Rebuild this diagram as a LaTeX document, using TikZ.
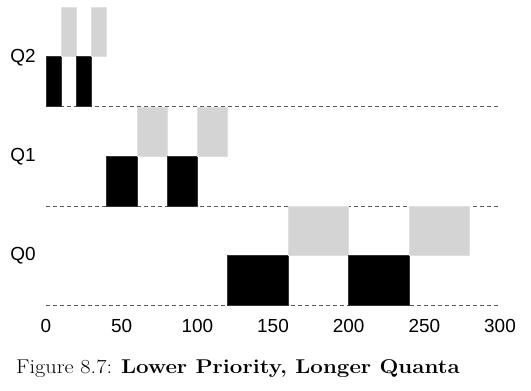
\documentclass[tikz,border=0pt]{standalone}
\usepackage{fontspec}
\setsansfont{Liberation Sans}
\usepackage{tikz}
\tikzset{run/.style={fill=black,draw=black!80,line width=0.6bp},
	wait/.style={fill=black!17,draw=black!12,line width=0.6bp},
	level/.style={draw=black!65,dash pattern=on 4bp off 3bp,line width=0.8bp},
	qname/.style={font=\sffamily\fontsize{19}{22}\selectfont},
	tick/.style={font=\sffamily\fontsize{19}{22}\selectfont}}

\begin{document}
\begin{tikzpicture}[x=1bp,y=1bp]
	\useasboundingbox (0,0) rectangle (531,390);
	\node[qname] (q2) at (23,332) {Q2};
	\node[qname] (q1) at (23,233) {Q1};
	\node[qname] (q0) at (23,134) {Q0};
	\begin{scope}[shift={(46,0)},x=1.5133bp]
	% queue Q2, quantum 10
	\draw[level] (0,284) -- (300,284);
	\filldraw[run] (0,284) rectangle (10,333.5);
	\filldraw[wait] (10,333.5) rectangle (20,383);
	\filldraw[run] (20,284) rectangle (30,333.5);
	\filldraw[wait] (30,333.5) rectangle (40,383);
	% queue Q1, quantum 20
	\draw[level] (0,184) -- (300,184);
	\filldraw[run] (40,184) rectangle (60,233.5);
	\filldraw[wait] (60,233.5) rectangle (80,283);
	\filldraw[run] (80,184) rectangle (100,233.5);
	\filldraw[wait] (100,233.5) rectangle (120,283);
	% queue Q0, quantum 40
	\draw[level] (0,85) -- (300,85);
	\filldraw[run] (120,85) rectangle (160,134.5);
	\filldraw[wait] (160,134.5) rectangle (200,184);
	\filldraw[run] (200,85) rectangle (240,134.5);
	\filldraw[wait] (240,134.5) rectangle (280,184);
	\foreach \t in {0,50,...,300}
		\node[tick] (t\t) at (\t,64.5) {\t};
	\end{scope}
	\node[anchor=base,xscale=1.12,transform shape,font=\fontsize{20}{23}\selectfont] (cap) at (238,17) {Figure 8.7: \textbf{Lower Priority, Longer Quanta}};
\end{tikzpicture}
\end{document}
